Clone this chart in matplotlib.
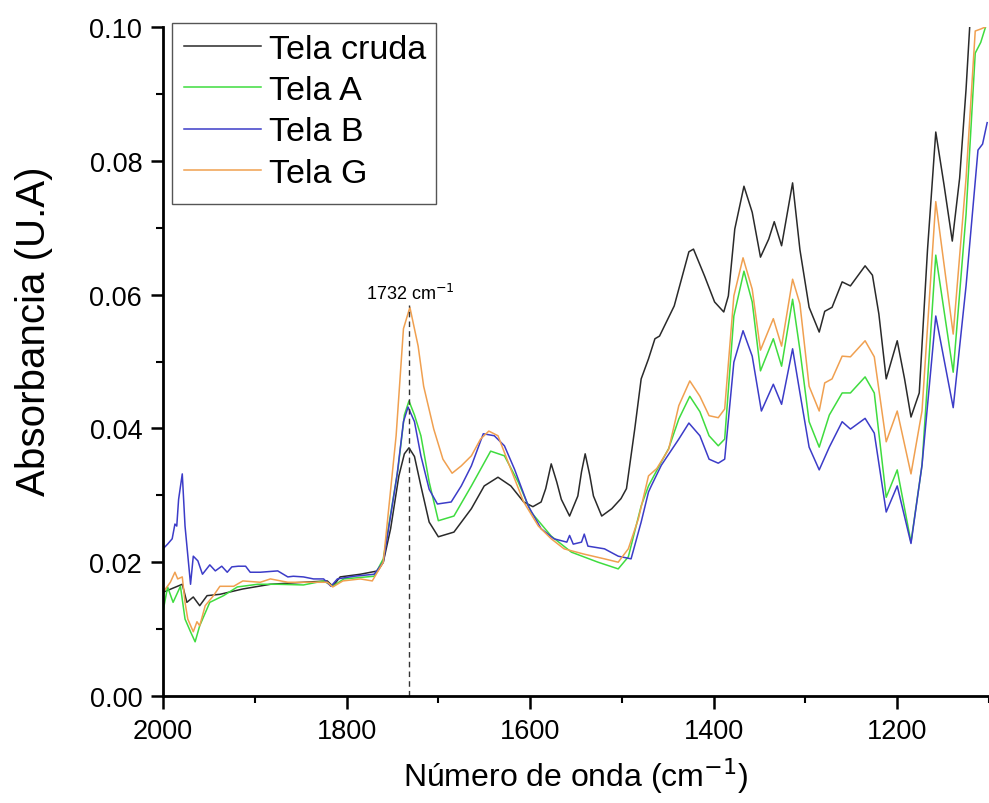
import numpy as np
import matplotlib
matplotlib.use('Agg')
import matplotlib.pyplot as plt
from matplotlib.patches import Rectangle

plt.rcParams['font.family'] = ['Liberation Sans', 'DejaVu Sans']

# Tela cruda (black)
wn_cruda = [2000, 1979, 1974, 1967, 1960, 1952, 1938, 1913, 1883, 1847,
            1821, 1815, 1807, 1785, 1766, 1760, 1752, 1743, 1737, 1732,
            1726, 1719, 1710, 1700, 1683, 1664, 1650, 1635, 1621, 1607,
            1597, 1588, 1583, 1577, 1571, 1566, 1557, 1548, 1544, 1540,
            1535, 1531, 1522, 1511, 1501, 1495, 1486, 1479, 1471, 1464,
            1459, 1443, 1427, 1422, 1410, 1399, 1389, 1384, 1377, 1367,
            1358, 1349, 1340, 1334, 1326, 1314, 1306, 1296, 1285, 1279,
            1271, 1260, 1251, 1235, 1227, 1220, 1212, 1200, 1192, 1185,
            1176, 1167, 1158, 1149, 1140, 1132, 1125, 1121]
ab_cruda = [0.0155, 0.0167, 0.0140, 0.0148, 0.0135, 0.0150, 0.0152, 0.0160, 0.0167, 0.0170,
            0.0172, 0.0164, 0.0178, 0.0182, 0.0187, 0.0200, 0.0250, 0.0329, 0.0362, 0.0371,
            0.0358, 0.0314, 0.0260, 0.0238, 0.0245, 0.0280, 0.0314, 0.0327, 0.0314, 0.0290,
            0.0283, 0.0290, 0.0310, 0.0347, 0.0320, 0.0294, 0.0269, 0.0299, 0.0335, 0.0362,
            0.0330, 0.0299, 0.0269, 0.0280, 0.0295, 0.0310, 0.0399, 0.0474, 0.0504, 0.0534,
            0.0538, 0.0583, 0.0664, 0.0668, 0.0628, 0.0589, 0.0574, 0.0598, 0.0698, 0.0762,
            0.0723, 0.0656, 0.0683, 0.0709, 0.0673, 0.0767, 0.0667, 0.0581, 0.0544, 0.0575,
            0.0581, 0.0619, 0.0613, 0.0643, 0.0629, 0.0571, 0.0474, 0.0531, 0.0474, 0.0417,
            0.0453, 0.0667, 0.0843, 0.0764, 0.0680, 0.0774, 0.0907, 0.1001]

# Tela A (green)
wn_a = [2000, 1995, 1989, 1981, 1976, 1970, 1965, 1960, 1949, 1934,
        1919, 1897, 1875, 1847, 1825, 1815, 1803, 1770, 1760, 1744,
        1737, 1732, 1726, 1719, 1710, 1700, 1683, 1664, 1643, 1628,
        1613, 1599, 1577, 1555, 1526, 1504, 1493, 1479, 1471, 1457,
        1449, 1438, 1426, 1415, 1405, 1395, 1388, 1378, 1367, 1358,
        1349, 1335, 1326, 1314, 1306, 1296, 1285, 1274, 1260, 1251,
        1235, 1225, 1212, 1200, 1185, 1173, 1158, 1139, 1125, 1115,
        1109, 1104]
ab_a = [0.0126, 0.0163, 0.0140, 0.0164, 0.0115, 0.0096, 0.0081, 0.0105, 0.0140, 0.0150,
        0.0163, 0.0167, 0.0167, 0.0166, 0.0172, 0.0164, 0.0175, 0.0179, 0.0205, 0.0339,
        0.0420, 0.0441, 0.0420, 0.0389, 0.0320, 0.0262, 0.0269, 0.0314, 0.0366, 0.0359,
        0.0320, 0.0275, 0.0239, 0.0215, 0.0200, 0.0190, 0.0208, 0.0284, 0.0314, 0.0350,
        0.0370, 0.0414, 0.0448, 0.0425, 0.0389, 0.0374, 0.0384, 0.0568, 0.0635, 0.0589,
        0.0486, 0.0534, 0.0493, 0.0593, 0.0517, 0.0410, 0.0372, 0.0420, 0.0453, 0.0453,
        0.0477, 0.0453, 0.0297, 0.0338, 0.0230, 0.0345, 0.0659, 0.0484, 0.0720, 0.0961,
        0.0977, 0.0999]

# Tela B (blue)
wn_b = [2000, 1995, 1990, 1987, 1985, 1983, 1979, 1976, 1970, 1967,
        1962, 1957, 1949, 1943, 1936, 1930, 1925, 1918, 1910, 1905,
        1894, 1875, 1864, 1858, 1847, 1836, 1825, 1817, 1810, 1792,
        1770, 1760, 1745, 1738, 1733, 1726, 1719, 1710, 1701, 1686,
        1675, 1664, 1651, 1639, 1628, 1617, 1602, 1588, 1574, 1560,
        1557, 1553, 1544, 1541, 1537, 1519, 1504, 1490, 1479, 1471,
        1468, 1457, 1438, 1427, 1415, 1405, 1395, 1388, 1378, 1368,
        1358, 1348, 1335, 1326, 1314, 1306, 1296, 1285, 1274, 1260,
        1251, 1235, 1225, 1212, 1200, 1185, 1173, 1158, 1139, 1125,
        1112, 1107, 1102]
ab_b = [0.0220, 0.0227, 0.0235, 0.0257, 0.0254, 0.0294, 0.0332, 0.0254, 0.0167, 0.0209,
        0.0202, 0.0182, 0.0196, 0.0187, 0.0194, 0.0185, 0.0193, 0.0194, 0.0194, 0.0185,
        0.0185, 0.0187, 0.0178, 0.0179, 0.0178, 0.0175, 0.0175, 0.0164, 0.0175, 0.0179,
        0.0182, 0.0200, 0.0330, 0.0410, 0.0432, 0.0410, 0.0359, 0.0309, 0.0287, 0.0290,
        0.0314, 0.0344, 0.0392, 0.0389, 0.0374, 0.0339, 0.0284, 0.0250, 0.0235, 0.0230,
        0.0240, 0.0227, 0.0230, 0.0242, 0.0224, 0.0220, 0.0209, 0.0205, 0.0260, 0.0305,
        0.0314, 0.0345, 0.0384, 0.0408, 0.0389, 0.0354, 0.0348, 0.0354, 0.0499, 0.0546,
        0.0508, 0.0426, 0.0466, 0.0436, 0.0519, 0.0453, 0.0372, 0.0338, 0.0372, 0.0410,
        0.0399, 0.0415, 0.0393, 0.0275, 0.0314, 0.0228, 0.0345, 0.0568, 0.0431, 0.0613,
        0.0816, 0.0825, 0.0857]

# Tela G (orange)
wn_g = [2000, 1992, 1987, 1984, 1979, 1976, 1973, 1967, 1963, 1960,
        1954, 1945, 1938, 1923, 1913, 1894, 1883, 1864, 1843, 1821,
        1815, 1804, 1785, 1772, 1760, 1746, 1738, 1731, 1722, 1716,
        1705, 1695, 1685, 1675, 1664, 1654, 1645, 1635, 1621, 1607,
        1591, 1577, 1563, 1541, 1519, 1504, 1493, 1482, 1471, 1462,
        1449, 1438, 1426, 1415, 1405, 1395, 1388, 1378, 1368, 1358,
        1349, 1335, 1326, 1314, 1306, 1296, 1285, 1279, 1271, 1260,
        1251, 1235, 1225, 1212, 1200, 1185, 1173, 1158, 1139, 1125,
        1115, 1109, 1104]
ab_g = [0.0155, 0.0170, 0.0185, 0.0175, 0.0178, 0.0140, 0.0115, 0.0096, 0.0111, 0.0105,
        0.0135, 0.0150, 0.0164, 0.0164, 0.0172, 0.0170, 0.0175, 0.0170, 0.0170, 0.0170,
        0.0163, 0.0172, 0.0175, 0.0172, 0.0200, 0.0389, 0.0549, 0.0581, 0.0523, 0.0463,
        0.0399, 0.0354, 0.0333, 0.0344, 0.0359, 0.0384, 0.0396, 0.0389, 0.0339, 0.0290,
        0.0254, 0.0235, 0.0220, 0.0212, 0.0205, 0.0200, 0.0220, 0.0265, 0.0329, 0.0340,
        0.0369, 0.0434, 0.0471, 0.0448, 0.0419, 0.0416, 0.0429, 0.0598, 0.0655, 0.0608,
        0.0517, 0.0564, 0.0523, 0.0623, 0.0586, 0.0463, 0.0426, 0.0468, 0.0474, 0.0508,
        0.0507, 0.0531, 0.0507, 0.0380, 0.0426, 0.0332, 0.0426, 0.0739, 0.0541, 0.0774,
        0.0994, 0.0997, 0.1000]

labels = ['Tela cruda', 'Tela A', 'Tela B', 'Tela G']
colors = ['#2a2a2a', '#3fdc3f', '#3c3cc8', '#f0a050']
peak_wn = 1732

fig = plt.figure(figsize=(9.89, 8.04), dpi=100)
ax = fig.add_axes([163 / 989, 107 / 804, 826 / 989, 669 / 804])

series = [(wn_cruda, ab_cruda), (wn_a, ab_a), (wn_b, ab_b), (wn_g, ab_g)]
for (x, y), lab, c in zip(series, labels, colors):
    ax.plot(x, y, color=c, lw=1.1, label=lab)

# dashed marker for the carbonyl band
ax.plot([peak_wn, peak_wn], [0, 0.0585], color='#333333', lw=1.0, ls=(0, (4, 3)))
ax.text(1730, 0.0594, '1732 cm$^{-1}$', ha='center', va='baseline', fontsize=13)

ax.set_xlim(2000, 1100)
ax.set_ylim(0, 0.10)
ax.set_xticks([2000, 1800, 1600, 1400, 1200])
ax.set_xticks(np.arange(1900, 1099, -200), minor=True)
ax.set_yticks([0.00, 0.02, 0.04, 0.06, 0.08, 0.10])
ax.set_yticks([0.01, 0.03, 0.05, 0.07, 0.09], minor=True)
ax.set_yticklabels(['0.00', '0.02', '0.04', '0.06', '0.08', '0.10'])

for s in ['top', 'right']:
    ax.spines[s].set_visible(False)
for s in ['left', 'bottom']:
    ax.spines[s].set_linewidth(2.0)
ax.tick_params(which='major', direction='out', length=9, width=1.8, labelsize=19.5)
ax.tick_params(axis='x', which='major', pad=7)
ax.tick_params(axis='y', which='major', pad=6)
ax.tick_params(which='minor', direction='out', length=5, width=1.5)

ax.set_xlabel('Número de onda (cm$^{-1}$)', fontsize=23, labelpad=8)
fig.text(34 / 989, (804 - 331) / 804, 'Absorbancia (U.A)', rotation=90,
         ha='center', va='center', fontsize=29)

# legend with a plain square frame that is taller than its entries
fig.patches.append(Rectangle((172 / 989, (804 - 205) / 804), 264 / 989, 181 / 804,
                             transform=fig.transFigure, fill=False,
                             edgecolor='#555555', lw=1.0))
fig.legend(loc='upper left', bbox_to_anchor=(184 / 989, (804 - 35) / 804),
           frameon=False, fontsize=24.5, handlelength=2.25, handletextpad=0.25,
           labelspacing=0.3, borderpad=0, borderaxespad=0)

fig.savefig('out.png', dpi=100)
